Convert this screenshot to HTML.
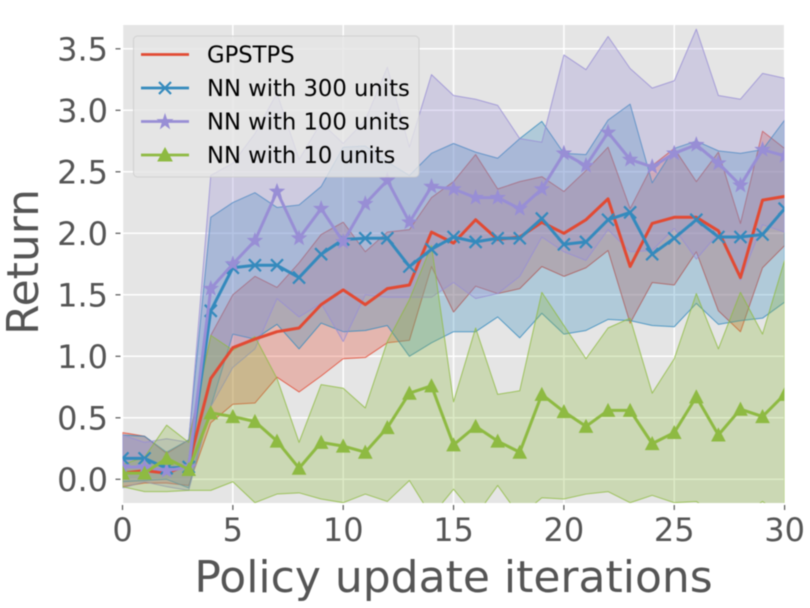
<!DOCTYPE html>
<html>
<head>
<meta charset="utf-8">
<style>
html,body{margin:0;padding:0;background:#fff;width:810px;height:608px;overflow:hidden}
svg{display:block;filter:blur(0.4px)}
text{font-family:"DejaVu Sans","Liberation Sans",sans-serif}
</style>
</head>
<body>
<svg id="chart" width="810" height="608" viewBox="0 0 810 608" xmlns="http://www.w3.org/2000/svg">
  <defs><clipPath id="plot-clip"><rect x="122.5" y="25" width="662" height="478"/></clipPath></defs>
  <rect x="122.5" y="25" width="662" height="478" fill="#e5e5e5"/>
  <g id="grid"></g>
  <g id="ticks"></g>
  <g id="bands" clip-path="url(#plot-clip)"></g>
  <g id="lines" clip-path="url(#plot-clip)"></g>
  <text x="453.5" y="592" font-size="44" fill="#555555" text-anchor="middle">Policy update iterations</text>
  <text transform="translate(38,262) rotate(-90)" font-size="44" fill="#555555" text-anchor="middle">Return</text>
  <g>
    <rect x="133.5" y="36" width="285.5" height="141" rx="4" fill="#e5e5e5" fill-opacity="0.8" stroke="#cccccc" stroke-opacity="0.8"/>
    <g>
      <line x1="141" x2="189" y1="54.5" y2="54.5" stroke="#E24A33" stroke-width="2.8"/>
      <text x="207" y="62.5" font-size="22.7" fill="#000">GPSTPS</text>
    </g>
    <g>
      <line x1="141" x2="189" y1="88" y2="88" stroke="#348ABD" stroke-width="2.8"/>
      <path d="M159 82L171 94M171 82L159 94" stroke="#348ABD" stroke-width="2.2" fill="none"/>
      <text x="207" y="96" font-size="22.7" fill="#000">NN with 300 units</text>
    </g>
    <g>
      <line x1="141" x2="189" y1="121.5" y2="121.5" stroke="#988ED5" stroke-width="2.8"/>
      <path d="M165 114.5L166.7 119.6L172 119.6L167.7 122.8L169.3 128L165 124.8L160.7 128L162.3 122.8L158 119.6L163.3 119.6Z" fill="#988ED5" stroke="#988ED5"/>
      <text x="207" y="129.5" font-size="22.7" fill="#000">NN with 100 units</text>
    </g>
    <g>
      <line x1="141" x2="189" y1="155" y2="155" stroke="#8EBA42" stroke-width="2.8"/>
      <path d="M165 148L172 161L158 161Z" fill="#8EBA42" stroke="#8EBA42"/>
      <text x="207" y="163" font-size="22.7" fill="#000">NN with 10 units</text>
    </g>
  </g>
</svg>
<script>
const xTickValues = [0, 5, 10, 15, 20, 25, 30];
const yTickLabels = ["0.0", "0.5", "1.0", "1.5", "2.0", "2.5", "3.0", "3.5"];
const iterations = [0,1,2,3,4,5,6,7,8,9,10,11,12,13,14,15,16,17,18,19,20,21,22,23,24,25,26,27,28,29,30];

const gpstpsMean = [0.05,0.07,0.05,0.12,0.82,1.07,1.14,1.2,1.23,1.42,1.54,1.42,1.55,1.58,2.01,1.92,2.11,1.95,1.97,2.09,2.0,2.11,2.28,1.73,2.08,2.13,2.13,2.02,1.64,2.27,2.3];
const gpstpsUpper = [0.38,0.35,0.21,0.32,1.17,1.5,1.65,1.56,1.76,1.99,2.09,1.85,2.01,2.03,2.29,2.42,2.64,2.36,2.42,2.46,2.34,2.51,2.7,2.2,2.55,2.69,2.42,2.66,2.08,2.83,2.69];
const gpstpsLower = [-0.06,-0.03,-0.03,-0.05,0.46,0.61,0.62,0.83,0.71,0.84,0.98,0.99,1.11,1.13,1.73,1.36,1.57,1.51,1.55,1.73,1.65,1.72,1.86,1.27,1.6,1.58,1.85,1.37,1.2,1.72,1.9];

const nn300Mean = [0.17,0.17,0.09,0.1,1.37,1.72,1.74,1.74,1.64,1.83,1.95,1.96,1.96,1.73,1.87,1.97,1.93,1.96,1.96,2.12,1.91,1.93,2.11,2.17,1.83,1.96,2.11,1.97,1.97,1.99,2.2];
const nn300Upper = [0.36,0.35,0.22,0.32,2.13,2.25,2.33,2.21,2.23,2.38,2.7,2.71,2.58,2.47,2.65,2.73,2.66,2.61,2.77,2.91,2.65,2.64,2.92,3.05,2.41,2.69,2.75,2.67,2.65,2.68,2.92];
const nn300Lower = [-0.02,-0.01,0.0,-0.07,0.59,1.18,1.14,1.26,1.06,1.27,1.2,1.21,1.25,1.0,1.11,1.2,1.2,1.32,1.15,1.35,1.18,1.21,1.3,1.29,1.25,1.24,1.43,1.26,1.29,1.31,1.44];

const nn100Mean = [0.1,0.1,0.07,0.1,1.55,1.75,1.94,2.34,1.96,2.2,1.93,2.24,2.43,2.09,2.38,2.36,2.29,2.29,2.2,2.36,2.65,2.55,2.82,2.6,2.54,2.65,2.72,2.57,2.39,2.68,2.63];
const nn100Upper = [0.36,0.3,0.33,0.3,2.47,2.57,2.81,3.14,2.6,2.9,2.73,2.92,3.35,2.7,3.29,3.12,3.09,3.04,2.77,2.74,3.45,3.33,3.6,3.34,3.18,3.24,3.66,3.12,3.09,3.3,3.26];
const nn100Lower = [-0.07,-0.02,-0.06,-0.09,0.59,0.91,1.06,1.47,1.32,1.43,1.12,1.5,1.48,1.48,1.48,1.6,1.47,1.51,1.65,1.97,1.85,1.78,2.03,1.85,1.86,2.04,1.79,2.0,1.62,2.07,2.01];

const nn10Mean = [0.05,0.05,0.17,0.08,0.54,0.51,0.47,0.31,0.09,0.3,0.27,0.22,0.42,0.7,0.76,0.28,0.43,0.31,0.22,0.69,0.55,0.43,0.56,0.56,0.29,0.38,0.67,0.36,0.57,0.51,0.69];
const nn10Upper = [0.12,0.18,0.44,0.3,1.17,1.05,1.16,0.82,0.3,0.77,0.74,0.58,1.12,1.46,1.9,0.63,1.23,0.69,0.72,1.52,1.25,0.98,1.23,1.31,0.7,0.98,1.51,1.06,1.52,1.18,1.78];
const nn10Lower = [-0.06,-0.1,-0.1,-0.09,-0.09,-0.02,-0.19,-0.12,-0.11,-0.16,-0.19,-0.12,-0.18,-0.01,-0.3,-0.08,-0.3,-0.05,-0.3,-0.15,-0.16,-0.12,-0.1,-0.19,-0.13,-0.19,-0.18,-0.3,-0.3,-0.18,-0.3];

const NS = 'http://www.w3.org/2000/svg';
function xS(v){ return 122.5 + v * 22.07; }
function yS(v){ return 479.3 - v * 123; }
function make(tag, attrs, parent){
  const el = document.createElementNS(NS, tag);
  for (const k in attrs) el.setAttribute(k, attrs[k]);
  parent.appendChild(el);
  return el;
}
const gridG = document.getElementById('grid');
const ticksG = document.getElementById('ticks');
const bandsG = document.getElementById('bands');
const linesG = document.getElementById('lines');

xTickValues.forEach(function(t){
  const g = make('line', {x1:xS(t), x2:xS(t), y1:25, y2:503, stroke:'#ffffff', 'stroke-width':1.5}, gridG);
  
  
  const m = make('line', {x1:xS(t), x2:xS(t), y1:505, y2:510, stroke:'#555555', 'stroke-width':1.2}, ticksG);
  
  
  const l = make('text', {x:xS(t), y:541, 'font-size':32, fill:'#555555', 'text-anchor':'middle'}, ticksG);
  
  
  l.textContent = String(t);
});
yTickLabels.forEach(function(t){
  const v = parseFloat(t);
  const g = make('line', {x1:122.5, x2:784.5, y1:yS(v), y2:yS(v), stroke:'#ffffff', 'stroke-width':1.5}, gridG);
  
  
  const m = make('line', {x1:115.5, x2:120.5, y1:yS(v), y2:yS(v), stroke:'#555555', 'stroke-width':1.2}, ticksG);
  
  
  const l = make('text', {x:108, y:yS(v) + 11.7, 'font-size':32, fill:'#555555', 'text-anchor':'end'}, ticksG);
  
  
  l.textContent = t;
});

function linePts(arr){
  return arr.map(function(v, i){ return xS(iterations[i]).toFixed(2) + ',' + yS(v).toFixed(2); });
}
function drawBand(upper, lower, color, name){
  const pts = linePts(upper).concat(linePts(lower).reverse());
  const p = make('polygon', {points:pts.join(' '), fill:color, 'fill-opacity':0.3, stroke:color, 'stroke-opacity':0.8, 'stroke-width':1, 'stroke-linejoin':'round'}, bandsG);
  
  
}
function markerPath(kind, x, y){
  if (kind === 'x') {
    const r = 6;
    return 'M'+(x-r)+' '+(y-r)+'L'+(x+r)+' '+(y+r)+'M'+(x+r)+' '+(y-r)+'L'+(x-r)+' '+(y+r);
  }
  if (kind === 'star') {
    let d = '';
    for (let i = 0; i < 10; i++) {
      const r = i % 2 === 0 ? 7.2 : 3;
      const a = -Math.PI / 2 + i * Math.PI / 5;
      d += (i ? 'L' : 'M') + (x + r * Math.cos(a)).toFixed(2) + ' ' + (y + r * Math.sin(a)).toFixed(2);
    }
    return d + 'Z';
  }
  return 'M'+x+' '+(y-6.5)+'L'+(x+6.5)+' '+(y+6)+'L'+(x-6.5)+' '+(y+6)+'Z';
}
function drawLine(mean, color, kind, name){
  const l = make('polyline', {points:linePts(mean).join(' '), fill:'none', stroke:color, 'stroke-width':3, 'stroke-linejoin':'round'}, linesG);
  
  
  if (!kind) return;
  mean.forEach(function(v, i){
    const d = markerPath(kind, xS(iterations[i]), yS(v));
    const attrs = kind === 'x'
      ? {d:d, fill:'none', stroke:color, 'stroke-width':2.2}
      : {d:d, fill:color, stroke:color, 'stroke-width':1};
    const m = make('path', attrs, linesG);
    
    
  });
}
drawBand(gpstpsUpper, gpstpsLower, '#E24A33', 'band-gpstps');
drawBand(nn300Upper, nn300Lower, '#348ABD', 'band-nn-300');
drawBand(nn100Upper, nn100Lower, '#988ED5', 'band-nn-100');
drawBand(nn10Upper, nn10Lower, '#8EBA42', 'band-nn-10');
drawLine(gpstpsMean, '#E24A33', null, 'line-gpstps');
drawLine(nn300Mean, '#348ABD', 'x', 'line-nn-300');
drawLine(nn100Mean, '#988ED5', 'star', 'line-nn-100');
drawLine(nn10Mean, '#8EBA42', 'triangle', 'line-nn-10');
</script>
</body>
</html>
